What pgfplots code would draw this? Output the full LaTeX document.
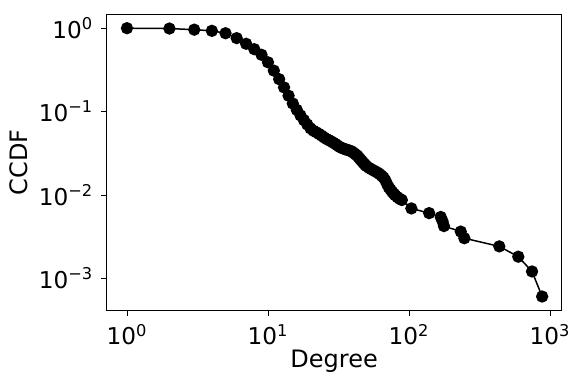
\documentclass[border=0pt]{standalone}
\usepackage{fontspec}
\setmainfont{DejaVu Sans}
\usepackage{pgfplots}
\pgfplotsset{compat=1.18}

\begin{document}
\begin{tikzpicture}
\begin{axis}[
    scale only axis,
    width=227.6pt, height=148.35pt,
    xmode=log, ymode=log,
    log basis x=10, log basis y=10,
    xmin=0.716, xmax=1211,
    ymin=4.07e-4, ymax=1.47,
    tick pos=left,
    tick align=outside,
    major tick length=2.6pt,
    minor tick length=1.5pt,
    axis line style={line width=0.5pt},
    every tick/.style={black, line width=0.45pt},
    xtick={1,10,100,1000},
    xticklabels={10\textsuperscript{0},10\textsuperscript{1},10\textsuperscript{2},10\textsuperscript{3}},
    ytick={0.001,0.01,0.1,1},
    yticklabels={10\textsuperscript{−3},10\textsuperscript{−2},10\textsuperscript{−1},10\textsuperscript{0}},
    ticklabel style={font=\fontsize{11.6}{13}\selectfont},
    xticklabel style={yshift=-0.5pt},
    yticklabel style={xshift=-0.5pt},
    label style={font=\fontsize{12}{14}\selectfont},
    xlabel={Degree},
    ylabel={CCDF},
    xlabel style={at={(axis description cs:0.5,-0.17)}, anchor=center},
    ylabel style={at={(axis description cs:-0.192,0.5)}, anchor=center, rotate=0},
    clip=false,
]
\addplot[black, line width=0.75pt, mark=*, mark size=2.7pt] table {
1 1.0
2 0.99
3 0.96
4 0.93
5 0.87
6 0.76
7 0.65
8 0.56
9 0.48
10 0.39
11 0.31
12 0.245
13 0.195
14 0.155
15 0.125
16 0.105
17 0.090
18 0.079
19 0.070
20 0.063
21 0.059
22 0.0565
23 0.054
24 0.0515
25 0.049
26 0.047
27 0.0455
28 0.044
29 0.0425
30 0.041
31 0.0395
32 0.038
33 0.037
34 0.0362
35 0.0355
36 0.0350
37 0.0345
38 0.0340
39 0.0335
40 0.0325
41 0.0315
42 0.0305
43 0.0295
44 0.0283
45 0.0270
46 0.0258
47 0.0248
48 0.0238
49 0.0229
50 0.0222
52 0.0212
54 0.0204
56 0.0197
58 0.0191
60 0.0185
62 0.0178
64 0.0170
66 0.0162
68 0.0150
70 0.0135
72 0.0123
74 0.0116
76 0.0109
78 0.0104
80 0.0099
83 0.0094
86 0.0090
89 0.0087
104 0.0069
139 0.00606
168 0.00545
173 0.00485
177 0.00424
233 0.00364
247 0.00303
437 0.00242
596 0.00182
746 0.00121
880 0.000606
};
\path (rel axis cs:-0.234,-0.246) rectangle (rel axis cs:1.0424,1.048);
\end{axis}
\end{tikzpicture}
\end{document}
